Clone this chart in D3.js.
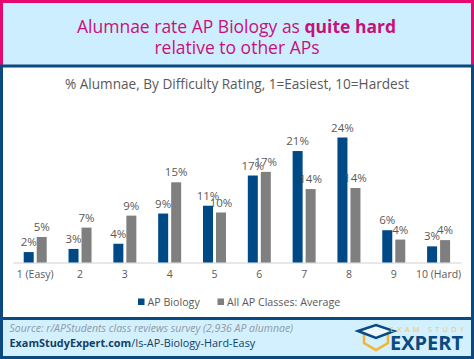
<!DOCTYPE html>
<html>
<head>
<meta charset="utf-8">
<script src="https://cdn.jsdelivr.net/npm/d3@7"></script>
<style>
  html, body { margin: 0; padding: 0; background: #fff; }
  svg { display: block; }
  text { font-family: "Open Sans", sans-serif; }
</style>
</head>
<body>
<div id="chart"></div>
<script>
const categories = ['1 (Easy)', '2', '3', '4', '5', '6', '7', '8', '9', '10 (Hard)'];
const apBiology = [2.0, 2.6, 3.6, 9.4, 10.9, 16.7, 21.4, 24.0, 6.2, 3.1];
const allAp = [4.9, 6.7, 9.0, 15.4, 9.6, 17.4, 14.1, 14.3, 4.4, 4.3];
const seriesNames = ['AP Biology', 'All AP Classes: Average'];
const seriesColors = ['#004987', '#7f7f7f'];

const width = 474;
const height = 359;
const navy = '#0b4a80';
const pink = '#e6086e';
const paleBlue = '#cdeeff';

const svg = d3.select('#chart').append('svg')
  .attr('width', width)
  .attr('height', height);

// frame and the two bands
svg.append('rect').attr('width', width).attr('height', height).attr('fill', '#fff');
svg.append('rect').attr('width', width).attr('height', 66).attr('fill', pink);
svg.append('rect').attr('x', 3).attr('y', 3).attr('width', width - 6).attr('height', 62).attr('fill', paleBlue);
svg.append('rect').attr('y', 64.5).attr('width', width).attr('height', 3).attr('fill', navy);
svg.append('rect').attr('y', 65).attr('width', 3).attr('height', 294).attr('fill', navy);
svg.append('rect').attr('x', width - 3).attr('y', 65).attr('width', 3).attr('height', 294).attr('fill', navy);
svg.append('rect').attr('y', 317).attr('width', width).attr('height', 42).attr('fill', navy);
svg.append('rect').attr('x', 3).attr('y', 320).attr('width', width - 6).attr('height', 36).attr('fill', '#d3f0ff');

// title
const titleColor = '#c8107a';
const t1 = svg.append('text')
  .attr('x', 236.5).attr('y', 32.5)
  .attr('text-anchor', 'middle')
  .attr('font-size', 17.5)
  .attr('fill', titleColor);
t1.append('tspan').text('Alumnae rate AP Biology as ');
t1.append('tspan').attr('font-weight', 700).text('quite hard');
svg.append('text')
  .attr('x', 237).attr('y', 53.5)
  .attr('text-anchor', 'middle')
  .attr('font-size', 17.5)
  .attr('fill', titleColor)
  .text('relative to other APs');

svg.append('text')
  .attr('x', 237).attr('y', 89)
  .attr('text-anchor', 'middle')
  .attr('font-size', 13.6)
  .attr('fill', '#595959')
  .text('% Alumnae, By Difficulty Rating, 1=Easiest, 10=Hardest');

// chart
const x = d3.scaleBand().domain(categories).range([12.8, 461]);
const y = d3.scaleLinear().domain([0, 24]).range([262.5, 137.5]);
const barWidth = 10;
const offsets = [-11.5, 1.5];

const xAxis = svg.append('g')
  .attr('transform', `translate(0,${y(0)})`)
  .call(d3.axisBottom(x).tickSize(0).tickPadding(8));
xAxis.select('.domain').attr('stroke', '#d0d0d0');
xAxis.selectAll('text')
  .attr('font-size', 10.5)
  .attr('font-family', '"Open Sans", sans-serif')
  .attr('fill', '#595959');

[apBiology, allAp].forEach((values, s) => {
  const rows = values.map((v, i) => ({ cat: categories[i], v }));

  svg.append('g').selectAll('rect')
    .data(rows)
    .join('rect')
    .attr('x', d => x(d.cat) + x.bandwidth() / 2 + offsets[s])
    .attr('y', d => y(d.v))
    .attr('width', barWidth)
    .attr('height', d => y(0) - y(d.v))
    .attr('fill', seriesColors[s]);

  svg.append('g').selectAll('text')
    .data(rows)
    .join('text')
    .attr('x', d => x(d.cat) + x.bandwidth() / 2 + offsets[s] + barWidth / 2)
    .attr('y', d => y(d.v) - 6)
    .attr('text-anchor', 'middle')
    .attr('font-size', 11.5)
    .attr('fill', '#595959')
    .text(d => Math.round(d.v) + '%');
});

// legend
const legendX = [138, 217.5];
seriesNames.forEach((name, i) => {
  svg.append('rect')
    .attr('x', legendX[i]).attr('y', 298.5)
    .attr('width', 6.5).attr('height', 6.5)
    .attr('fill', seriesColors[i]);
  svg.append('text')
    .attr('x', legendX[i] + 9.5).attr('y', 306)
    .attr('font-size', 10.7)
    .attr('fill', '#595959')
    .text(name);
});

// footer
svg.append('text')
  .attr('x', 9.5).attr('y', 332)
  .attr('font-size', 10.5)
  .attr('font-style', 'italic')
  .attr('fill', '#8f9aa3')
  .text('Source: r/APStudents class reviews survey (2,936 AP alumnae)');
const link = svg.append('text')
  .attr('x', 9.5).attr('y', 347)
  .attr('font-size', 10.85)
  .attr('fill', '#123f66');
link.append('tspan').attr('font-weight', 700).text('ExamStudyExpert.com');
link.append('tspan').text('/Is-AP-Biology-Hard-Easy');

// logo
const logo = svg.append('g');
logo.append('path')
  .attr('d', 'M364 334 V343 L376 350 L388 343 V334')
  .attr('fill', 'none').attr('stroke', '#f2b632').attr('stroke-width', 2.5);
logo.append('path')
  .attr('d', 'M358 331 L376 325 L394 331 L376 338 Z')
  .attr('fill', '#eef9ff').attr('stroke', navy).attr('stroke-width', 2.5);
logo.append('text')
  .attr('x', 390).attr('y', 331.5)
  .attr('font-size', 7.5)
  .attr('textLength', 74)
  .attr('lengthAdjust', 'spacing')
  .attr('fill', '#f2c660')
  .text('EXAM STUDY');
logo.append('text')
  .attr('x', 390).attr('y', 350)
  .attr('font-size', 20)
  .attr('font-weight', 700)
  .attr('fill', navy)
  .text('EXPERT');
</script>
</body>
</html>
